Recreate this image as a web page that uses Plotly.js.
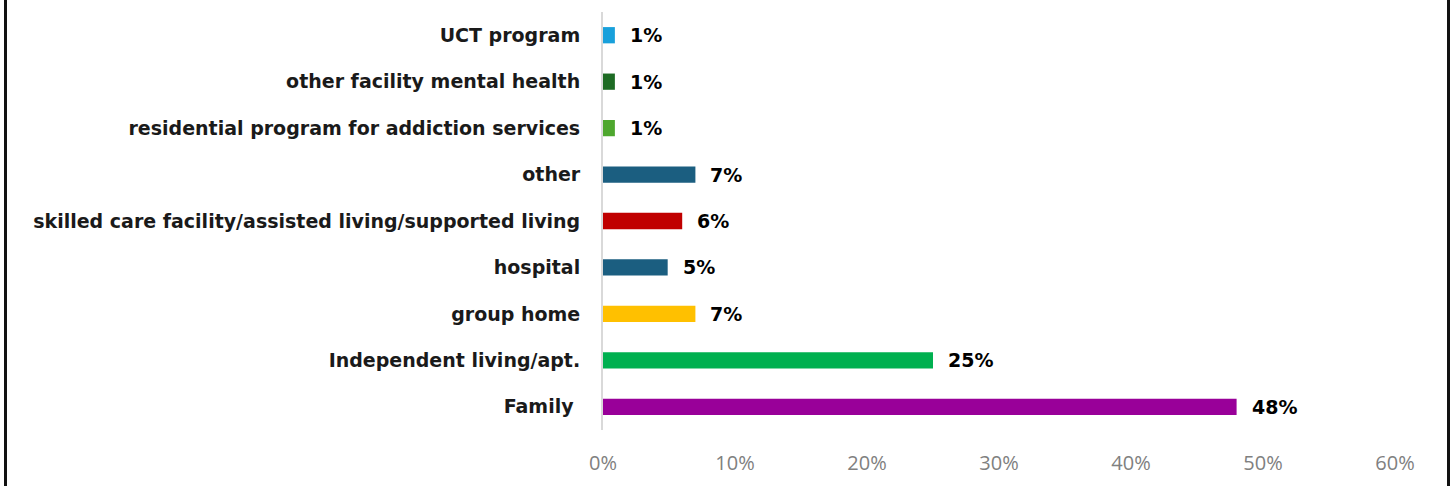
<!DOCTYPE html>
<html>
<head>
<meta charset="utf-8">
<script src="https://cdn.plot.ly/plotly-3.0.1.min.js"></script>
<style>
html,body{margin:0;padding:0;background:#fff;}
#wrap{position:absolute;left:4px;top:0;width:1446px;height:486px;box-sizing:border-box;border-left:3px solid #111;border-right:3px solid #111;}
#chart{position:absolute;left:-7px;top:0;width:1453px;height:486px;}
</style>
</head>
<body>
<div id="wrap"><div id="chart"></div></div>
<script>
const categories = ["Family ", "Independent living/apt.", "group home", "hospital",
  "skilled care facility/assisted living/supported living", "other",
  "residential program for addiction services", "other facility mental health", "UCT program"];
const values = [48, 25, 7, 4.9, 6, 7, 0.9, 0.9, 0.9];
const labels = ["48%", "25%", "7%", "5%", "6%", "7%", "1%", "1%", "1%"];
const colors = ["#990099", "#00B050", "#FFC000", "#1B5E80", "#C00000", "#1B5E80", "#4EA72E", "#1E6B24", "#18A0DB"];
const xTicks = [0, 10, 20, 30, 40, 50, 60];

const boldFont = "'DejaVu Sans', sans-serif";
const tickFont = "'Open Sans', sans-serif";

const trace = {
  type: "bar",
  orientation: "h",
  y: categories,
  x: values,
  marker: {color: colors},
  hoverinfo: "none"
};

const annotations = categories.map((c, i) => ({
  x: values[i], y: c, xref: "x", yref: "y",
  text: labels[i], showarrow: false, xanchor: "left", yanchor: "middle",
  xshift: 13, font: {family: boldFont, size: 19, color: "#000", weight: "bold"}
}));

const layout = {
  width: 1453, height: 486,
  margin: {l: 603, r: 58, t: 12, b: 56},
  paper_bgcolor: "rgba(0,0,0,0)", plot_bgcolor: "rgba(0,0,0,0)",
  showlegend: false,
  bargap: 0.65,
  xaxis: {
    range: [0, 60], tickvals: xTicks, ticktext: xTicks.map(v => v + "%"),
    showgrid: false, zeroline: false, showline: false, ticks: "",
    ticklabelstandoff: 19,
    tickfont: {family: tickFont, size: 20, color: "#808080"}
  },
  yaxis: {
    showgrid: false, zeroline: false, showline: true, linecolor: "#d9d9d9", linewidth: 2,
    ticks: "", ticklabelstandoff: 17,
    tickfont: {family: boldFont, size: 19, color: "#1a1a1a", weight: "bold"}
  },
  annotations: annotations
};

Plotly.newPlot("chart", [trace], layout, {staticPlot: true});
</script>
</body>
</html>
